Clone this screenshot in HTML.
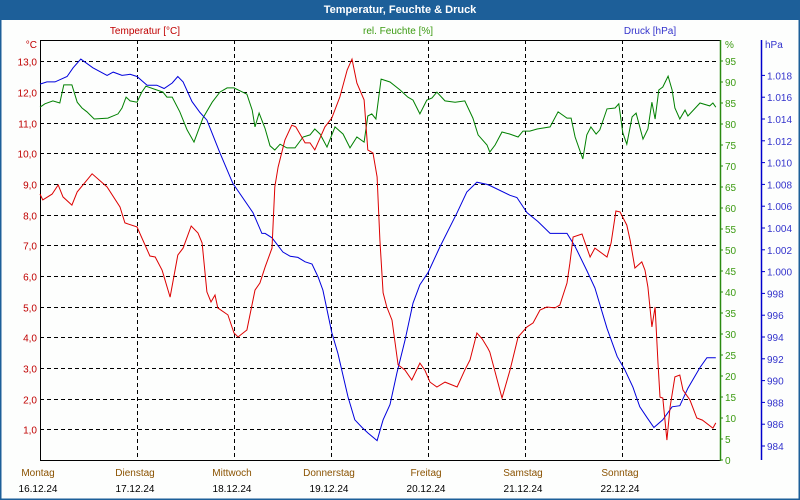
<!DOCTYPE html>
<html><head><meta charset="utf-8"><style>
html,body{margin:0;padding:0;background:#fff}
#wrap{position:relative;width:800px;height:500px;overflow:hidden;background:#fdfefd}
svg text{font-family:"Liberation Sans",sans-serif;font-size:10px}
</style></head><body>
<div id="wrap">
<svg id="chart" width="800" height="500" xmlns="http://www.w3.org/2000/svg">
<rect x="0" y="0" width="800" height="500" fill="#fdfefd"/>
<rect x="0" y="0" width="800" height="20" fill="#1d5f99"/>
<rect x="0.5" y="0.5" width="799" height="499" fill="none" stroke="#1d5f99" stroke-width="2"/>
<text x="400" y="13" text-anchor="middle" fill="#fff" font-weight="bold" style="font-size:11px">Temperatur, Feuchte &amp; Druck</text>
<text x="145" y="34" text-anchor="middle" fill="#c00000">Temperatur [°C]</text>
<text x="398" y="34" text-anchor="middle" fill="#3a9a10">rel. Feuchte [%]</text>
<text x="650" y="34" text-anchor="middle" fill="#3333cc">Druck [hPa]</text>
<g id="grid"></g>
<g id="axes"></g>
<g id="series"></g>
</svg>
</div>
<script>
// Data: hours since Monday 16.12.24 00:00
const dayNames = ["Montag","Dienstag","Mittwoch","Donnerstag","Freitag","Samstag","Sonntag"];
const dayDates = ["16.12.24","17.12.24","18.12.24","19.12.24","20.12.24","21.12.24","22.12.24"];
const tempTicks = [1,2,3,4,5,6,7,8,9,10,11,12,13];
const humTicks = [0,5,10,15,20,25,30,35,40,45,50,55,60,65,70,75,80,85,90,95];
const pressTicks = [984,986,988,990,992,994,996,998,1000,1002,1004,1006,1008,1010,1012,1014,1016,1018];

const tempHours = [0,0.7,3.0,4.5,5.7,7.9,9.2,12.9,16.6,19.8,21.0,24.0,27.2,28.5,30.2,32.2,34.1,35.4,37.4,39.1,40.1,41.3,42.3,43.3,44.0,46.5,48.0,49.0,51.2,53.2,54.4,55.7,57.4,58.1,58.9,60.6,62.3,63.3,65.6,66.8,68.0,70.5,72.2,74.2,76.0,77.2,78.4,80.2,81.1,82.4,83.4,84.1,84.9,85.8,87.1,88.6,90.3,92.0,94.0,95.2,96.5,98.2,100.2,103.2,105.1,106.4,108.1,109.4,110.8,111.3,114.3,116.3,118.3,120.5,122.0,123.7,125.4,127.4,128.6,130.4,131.1,131.9,134.1,136.1,137.3,140.3,141.3,142.5,143.5,145.2,146.0,147.2,148.9,149.7,150.4,151.4,152.2,152.9,153.4,154.1,155.1,155.9,157.1,158.3,159.1,160.8,162.5,163.9,166.5,167.2];
const tempValues = [8.67,8.48,8.67,8.97,8.58,8.31,8.74,9.33,8.90,8.25,7.73,7.60,6.65,6.62,6.19,5.31,6.68,6.91,7.63,7.40,7.08,5.48,5.15,5.38,4.96,4.73,4.14,4.01,4.24,5.54,5.77,6.29,6.91,8.90,9.55,10.43,10.92,10.86,10.34,10.34,10.11,10.86,11.15,11.84,12.72,13.07,12.29,11.74,10.11,10.01,9.23,7.17,5.45,4.99,4.56,3.10,2.93,2.61,3.16,2.93,2.54,2.38,2.54,2.38,2.93,3.26,4.14,3.95,3.65,3.52,2.02,2.93,4.01,4.34,4.47,4.89,4.99,4.96,5.05,5.77,6.42,7.27,7.37,6.62,6.91,6.62,7.08,8.12,8.09,7.66,7.17,6.26,6.46,6.19,5.64,4.34,4.99,3.16,2.05,2.02,0.65,1.73,2.71,2.77,2.28,1.96,1.37,1.30,1.04,1.21];

const pressHours = [0,1.7,3.7,6.7,8.2,10.1,13.1,16.6,18.1,20.3,22.3,24.0,26.5,28.9,30.7,32.7,34.1,35.4,37.6,39.6,41.3,44.5,47.7,52.7,54.9,55.7,57.4,60.1,61.9,63.8,65.6,67.3,68.8,70.0,72.2,73.7,76.2,77.9,79.7,81.1,83.4,84.9,86.6,88.3,90.3,92.3,94.0,96.0,99.0,103.2,105.6,108.1,110.6,111.3,116.3,118.0,120.5,123.2,126.2,130.4,132.4,135.3,137.3,140.3,142.8,144.7,146.7,148.4,150.2,151.9,154.1,156.4,158.3,160.3,163.3,165.0,167.2];
const pressValues = [1017.2,1017.4,1017.4,1017.9,1018.7,1019.5,1018.7,1018.0,1018.3,1018.0,1018.1,1017.9,1017.1,1017.1,1016.8,1017.3,1017.9,1017.4,1015.6,1014.6,1013.9,1010.9,1008.1,1005.4,1003.5,1003.5,1003.1,1001.8,1001.4,1001.3,1000.9,1000.7,999.5,998.3,994.4,992.5,988.5,986.4,985.7,985.2,984.5,986.4,987.8,990.7,993.7,997.1,998.8,999.9,1002.3,1005.4,1007.3,1008.2,1008.0,1007.9,1007.0,1006.8,1005.4,1004.6,1003.5,1003.5,1002.3,1000.1,998.5,994.8,992.2,991.0,989.4,987.6,986.6,985.7,986.4,987.6,987.7,989.3,991.2,992.1,992.1];

const humHours = [0,1.2,3.2,4.9,5.9,7.9,9.2,10.4,11.6,13.4,16.8,19.3,20.3,21.3,22.3,24.0,25.2,26.2,30.4,31.4,32.7,34.6,36.4,38.1,40.3,42.6,44.5,46.3,48.0,51.2,52.5,53.2,54.2,55.7,56.9,58.1,59.4,61.1,63.1,65.1,66.8,68.0,69.3,71.0,73.0,75.0,76.7,78.4,80.2,81.1,82.1,83.1,84.4,86.6,89.1,91.0,92.3,94.0,95.7,97.0,98.2,100.2,102.7,105.1,107.1,108.4,110.6,111.3,112.6,114.3,116.3,118.3,119.5,121.2,123.0,126.2,128.2,130.4,131.4,132.4,134.3,135.3,136.3,137.6,138.5,140.3,142.3,143.2,144.2,145.2,146.5,147.5,149.2,150.4,151.4,152.2,153.1,154.1,155.4,156.4,157.1,158.3,159.6,160.3,163.3,165.7,166.5,167.2];
const humValues = [84.0,84.8,85.5,85.0,89.3,89.3,85.2,83.8,82.9,81.2,81.4,82.4,83.8,86.4,85.5,85.2,87.6,89.0,87.6,86.4,86.4,82.9,78.6,75.7,81.4,85.2,87.6,88.6,88.6,87.1,83.3,79.3,82.6,78.9,74.8,73.8,75.2,74.3,74.3,76.9,77.4,78.8,77.6,74.5,79.3,77.6,74.3,76.9,75.7,81.9,82.4,81.2,90.7,90.0,88.1,86.4,85.7,82.4,85.7,86.2,87.6,85.5,85.2,85.5,81.4,77.4,75.0,73.3,75.0,78.1,77.6,76.9,78.3,78.3,78.8,79.3,82.9,81.4,81.4,76.9,71.7,77.4,79.3,77.6,78.6,83.6,83.8,84.8,77.9,75.2,81.7,82.6,76.4,78.8,85.2,81.2,88.1,88.8,91.4,88.1,83.8,81.2,83.3,81.9,85.0,84.3,85.0,84.0];

// axis functions
const PL=40, PR=719, PT=40, PB=460;
function xScale(h){ return PL + h/168*(PR-PL); }
function yTemp(t){ return PB - t*30.67; }
function yHum(v){ return PB - v*4.2; }
function yPress(p){ return 446 - (p-984)*10.9; }

const NS="http://www.w3.org/2000/svg";
function mk(tag, attrs, parent, txt){
  const e=document.createElementNS(NS,tag);
  for(const k in attrs) e.setAttribute(k,attrs[k]);
  if(txt!==undefined) e.textContent=txt;
  parent.appendChild(e); return e;
}
const grid=document.getElementById('grid');
const axes=document.getElementById('axes');
const series=document.getElementById('series');

tempTicks.forEach(t=>{
  const y=Math.round(yTemp(t))+0.5;
  const l=mk('line',{x1:PL,x2:PR,y1:y,y2:y,stroke:'#000','stroke-dasharray':'4,3','stroke-width':1},grid);
  
  
  const tx=mk('text',{x:37,y:y+4,'text-anchor':'end',fill:'#c00000'},axes,t.toFixed(1).replace('.',','));
  
  
});
for(let d=1; d<7; d++){
  const x=Math.round(xScale(d*24))+0.5;
  const l=mk('line',{x1:x,x2:x,y1:PT,y2:PB,stroke:'#000','stroke-dasharray':'4,3','stroke-width':1},grid);
  
  
}
dayNames.forEach((n,d)=>{
  const x=xScale(d*24);
  const a=mk('text',{x:x-2,y:476,'text-anchor':'middle',fill:'#8a5200'},axes,n);
  
  
  const b=mk('text',{x:x-2,y:492,'text-anchor':'middle',fill:'#000'},axes,dayDates[d]);
  
  
});
// plot frame
const fr=mk('path',{d:`M${PL+0.5},${PB} V${PT+0.5} H${PR+1} M${PL},${PB+0.5} H${PR+1}`,stroke:'#000',fill:'none'},axes);


mk('text',{x:37,y:48,'text-anchor':'end',fill:'#c00000'},axes,'°C');
// humidity axis
const ha=mk('line',{x1:720.5,x2:720.5,y1:PT,y2:PB+1,stroke:'#2a8a10','stroke-width':1.5},axes);


mk('text',{x:725,y:48,fill:'#3a9a10'},axes,'%');
humTicks.forEach(v=>{
  const y=yHum(v);
  const tk=mk('line',{x1:720,x2:723,y1:y,y2:y,stroke:'#2a8a10'},axes);
  
  
  const t=mk('text',{x:725,y:y+4,fill:'#3a9a10'},axes,String(v));
  
  
});
// pressure axis
const pa=mk('line',{x1:761.5,x2:761.5,y1:PT,y2:PB,stroke:'#0000cc','stroke-width':1.5},axes);


mk('text',{x:765,y:48,fill:'#3333cc'},axes,'hPa');
pressTicks.forEach(p=>{
  const y=yPress(p);
  const tk=mk('line',{x1:762,x2:765,y1:y,y2:y,stroke:'#0000cc'},axes);
  
  
  const lab = p>=1000 ? '1.'+String(p-1000).padStart(3,'0') : String(p);
  const t=mk('text',{x:767,y:y+4,fill:'#3333cc'},axes,lab);
  
  
});
function linePath(hs, vs, yf){
  return hs.map((h,i)=>(i?'L':'M')+xScale(h).toFixed(1)+','+yf(vs[i]).toFixed(1)).join(' ');
}
const pg=mk('path',{d:linePath(humHours,humValues,yHum),fill:'none',stroke:'#008000','stroke-width':1},series);


const pb=mk('path',{d:linePath(pressHours,pressValues,yPress),fill:'none',stroke:'#0000dd','stroke-width':1},series);


const pr=mk('path',{d:linePath(tempHours,tempValues,yTemp),fill:'none',stroke:'#dd0000','stroke-width':1},series);


</script>
</body></html>
